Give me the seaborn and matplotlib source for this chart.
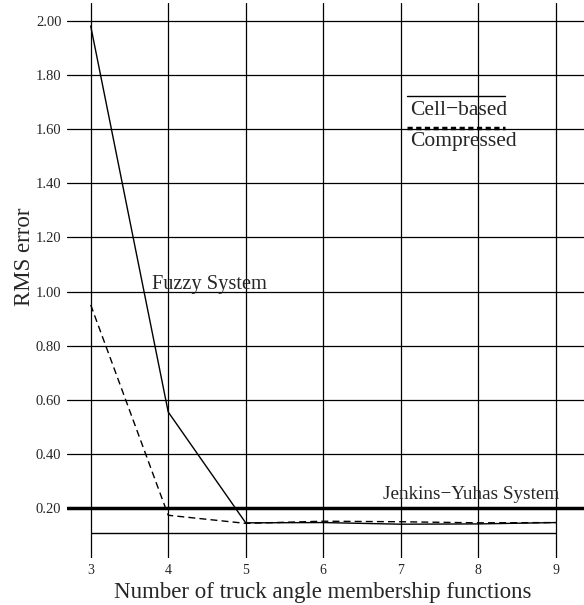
import matplotlib
matplotlib.use("Agg")
import matplotlib.pyplot as plt
import seaborn as sns
import pandas as pd

# ---- data ----
n_funcs = [3, 4, 5, 6, 7, 8, 9]
cell_based = [1.98, 0.556, 0.147, 0.148, 0.142, 0.143, 0.148]
compressed = [0.951, 0.175, 0.145, 0.153, 0.151, 0.147, 0.148]
y_ticks = [0.20, 0.40, 0.60, 0.80, 1.00, 1.20, 1.40, 1.60, 1.80, 2.00]
jenkins_yuhas = 0.20
baseline = 0.108
series_names = ["Cell\u2212based", "Compressed"]

sns.set_style("white")
plt.rcParams["font.family"] = ["Liberation Serif", "DejaVu Serif"]

df = pd.DataFrame({
    "n": n_funcs * 2,
    "rms": cell_based + compressed,
    "series": [series_names[0]] * len(n_funcs) + [series_names[1]] * len(n_funcs),
})

fig = plt.figure(figsize=(5.84, 6.05), dpi=100)
ax = fig.add_axes([0.1147, 0.0777, 0.8853, 0.9174])

sns.lineplot(data=df, x="n", y="rms", style="series",
             dashes={series_names[0]: "", series_names[1]: (5, 3)},
             color="black", linewidth=1.0, legend=False, ax=ax)

ax.set_xlim(2.694, 9.365)
ax.set_ylim(0.0173, 2.065)
ax.set_xticks(n_funcs)
ax.set_xticklabels([str(v) for v in n_funcs], fontsize=10)
ax.set_yticks(y_ticks)
ax.set_yticklabels([f"{v:.2f}" for v in y_ticks], fontsize=10.5)
ax.grid(True, color="black", linewidth=0.9)
ax.set_axisbelow(True)
ax.tick_params(axis="both", length=0)
ax.tick_params(axis="y", pad=4)
ax.tick_params(axis="x", pad=4)
for s in ax.spines.values():
    s.set_visible(False)

# Jenkins-Yuhas reference line and baseline
ax.axhline(jenkins_yuhas, color="black", linewidth=2.5)
ax.hlines(baseline, n_funcs[0], n_funcs[-1], color="black", linewidth=1.0)

# annotations
ax.text(3.79, 1.025, "Fuzzy System", fontsize=14.7, ha="left", va="center")
ax.text(6.77, 0.252, "Jenkins\u2212Yuhas System", fontsize=13.8, ha="left", va="center")

# custom legend
ax.plot([7.08, 8.345], [1.722, 1.722], color="black", linewidth=1.0)
ax.text(7.12, 1.67, series_names[0], fontsize=15.5, ha="left", va="center")
ax.plot([7.08, 8.345], [1.603, 1.603], color="black", linewidth=2.5,
        linestyle=(0, (1.5, 1)))
ax.text(7.12, 1.555, series_names[1], fontsize=15.5, ha="left", va="center")

ax.set_xlabel("Number of truck angle membership functions", fontsize=16.5,
              va="center", ha="center")
ax.xaxis.set_label_coords(0.495, -0.063)
ax.set_ylabel("RMS error", fontsize=16.5, va="center", ha="center")
ax.yaxis.set_label_coords(-0.083, 0.542)

fig.savefig("out.png", dpi=100)
